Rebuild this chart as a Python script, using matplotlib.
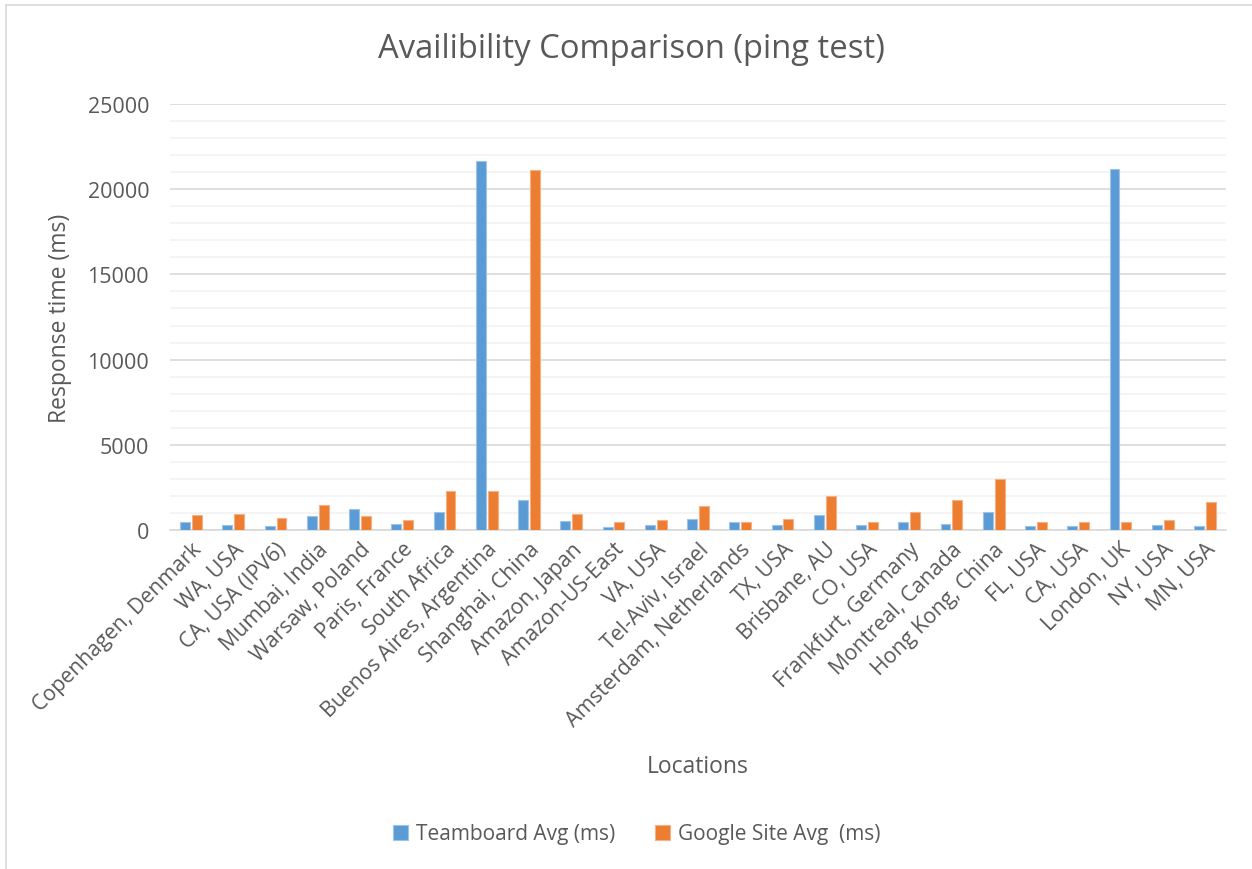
import matplotlib
matplotlib.use("Agg")
import matplotlib.pyplot as plt
import numpy as np
from matplotlib.lines import Line2D

locations = ["Copenhagen, Denmark", "WA, USA", "CA, USA (IPV6)", "Mumbai, India",
             "Warsaw, Poland", "Paris, France", "South Africa", "Buenos Aires, Argentina",
             "Shanghai, China", "Amazon, Japan", "Amazon-US-East", "VA, USA",
             "Tel-Aviv, Israel", "Amsterdam, Netherlands", "TX, USA", "Brisbane, AU",
             "CO, USA", "Frankfurt, Germany", "Montreal, Canada", "Hong Kong, China",
             "FL, USA", "CA, USA", "London, UK", "NY, USA", "MN, USA"]
teamboard = [450, 274, 254, 822, 1213, 352, 1057, 21640, 1761, 528, 196, 313,
             646, 450, 293, 880, 293, 450, 372, 1037, 254, 215, 21190, 293, 254]
google = [880, 940, 705, 1448, 802, 567, 2309, 2290, 21150, 920, 470, 587,
          1409, 450, 626, 1996, 489, 1057, 1761, 2994, 489, 470, 489, 587, 1624]
yticks = [0, 5000, 10000, 15000, 20000, 25000]

plt.rcParams['font.family'] = ['Open Sans', 'DejaVu Sans']
txt = '#595959'
fig = plt.figure(figsize=(12.52, 8.70), dpi=100)
ax = fig.add_axes([170/1252, 1-531/870, (1226-170)/1252, (531-105)/870])

x = np.arange(len(locations))
w = 0.235
ax.bar(x - 0.14, teamboard, w, color='#5B9BD5', edgecolor='#9DC3E6', linewidth=0.8,
       label='Teamboard Avg (ms)', zorder=3)
ax.bar(x + 0.14, google, w, color='#ED7D31', edgecolor='#F4B183', linewidth=0.8,
       label='Google Site Avg  (ms)', zorder=3)

ax.set_xlim(-0.5, len(locations) - 0.5)
ax.set_ylim(0, 25000)
ax.set_yticks(yticks)
ax.set_yticks(np.arange(0, 25001, 1000), minor=True)
ax.yaxis.grid(True, which='major', color='#D9D9D9', linewidth=1.2, zorder=0)
ax.yaxis.grid(True, which='minor', color='#F2F2F2', linewidth=1.2, zorder=0)
ax.tick_params(axis='y', which='both', length=0, labelsize=15.5, labelcolor=txt, pad=15)
ax.set_xticks(x)
ax.set_xticklabels(locations, rotation=45, ha='right', va='top', rotation_mode='anchor',
                   fontsize=15.3, color=txt)
ax.tick_params(axis='x', length=0, pad=6)
for s in ['top', 'right', 'left']:
    ax.spines[s].set_visible(False)
ax.spines['bottom'].set_color('#D9D9D9')
ax.spines['bottom'].set_linewidth(1.2)

fig.text(631/1252, 1-49/870, 'Availibility Comparison (ping test)', fontsize=23.6,
         color=txt, ha='center', va='center')
fig.text(698/1252, 1-767/870, 'Locations', fontsize=16.5, color=txt, ha='center', va='center')
fig.text(60/1252, 1-318/870, 'Response time (ms)', fontsize=16.5, color=txt, ha='center',
         va='center', rotation=90)

fig.legend(loc='center', bbox_to_anchor=(637/1252, 1-835/870), ncol=2, frameon=False,
           fontsize=15, labelcolor=txt, handlelength=0.7, handleheight=0.7,
           handletextpad=0.4, columnspacing=1.9)

fig.add_artist(Line2D([6/1252, 6/1252], [0, 1-5.5/870], transform=fig.transFigure,
                      color='#D9D9D9', linewidth=1.2))
fig.add_artist(Line2D([6/1252, 1], [1-5.5/870, 1-5.5/870], transform=fig.transFigure,
                      color='#D9D9D9', linewidth=1.2))

fig.savefig('out.png', dpi=100, facecolor='white')
